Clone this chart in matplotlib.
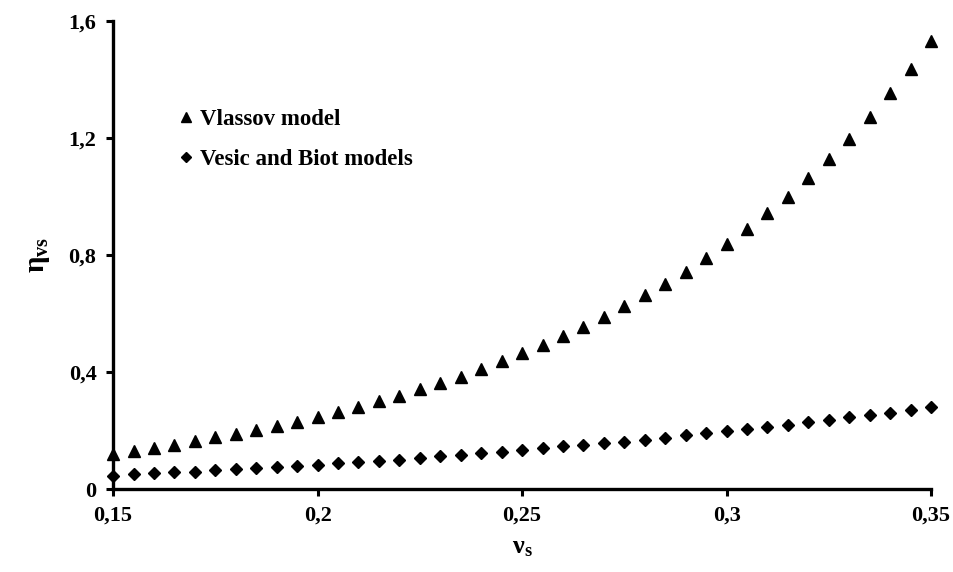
import numpy as np
import matplotlib.pyplot as plt
from matplotlib.ticker import FuncFormatter

plt.rcParams['font.family'] = ['Liberation Serif', 'DejaVu Serif']
plt.rcParams['font.weight'] = 'bold'
plt.rcParams['mathtext.fontset'] = 'custom'
plt.rcParams['mathtext.rm'] = 'Liberation Serif:bold'
plt.rcParams['mathtext.bf'] = 'Liberation Serif:bold'
plt.rcParams['mathtext.it'] = 'Liberation Serif:bold'

# poisson ratio of the soil, 0.15 .. 0.35 in steps of 0.005
nu_s = np.round(np.arange(0.15, 0.3501, 0.005), 3)

# values
vlassov = [0.120, 0.131, 0.141, 0.152, 0.165, 0.177, 0.188, 0.202, 0.217, 0.231,
           0.248, 0.264, 0.281, 0.301, 0.319, 0.341, 0.361, 0.384, 0.409, 0.438,
           0.464, 0.492, 0.523, 0.555, 0.589, 0.626, 0.662, 0.701, 0.743, 0.789,
           0.837, 0.888, 0.943, 0.999, 1.062, 1.127, 1.197, 1.273, 1.353, 1.438,
           1.533]
vesic_biot = [0.046, 0.050, 0.054, 0.057, 0.060, 0.064, 0.067, 0.071, 0.075, 0.079,
              0.083, 0.088, 0.092, 0.097, 0.101, 0.107, 0.112, 0.117, 0.122, 0.128,
              0.133, 0.140, 0.147, 0.151, 0.156, 0.162, 0.168, 0.175, 0.184, 0.190,
              0.197, 0.204, 0.213, 0.220, 0.228, 0.235, 0.246, 0.253, 0.261, 0.270,
              0.279]

x_ticks = [0.15, 0.2, 0.25, 0.3, 0.35]
y_ticks = [0, 0.4, 0.8, 1.2, 1.6]

fig = plt.figure(figsize=(9.54, 5.72), dpi=100)
ax = fig.add_axes([0.1185, 0.145, 0.8575, 0.818])

ax.plot(nu_s, vlassov, linestyle='none', marker='^', ms=8.5, color='black',
        label='Vlassov model', clip_on=False, zorder=2)
ax.plot(nu_s, vesic_biot, linestyle='none', marker='D', ms=6.3, color='black',
        label='Vesic and Biot models', clip_on=False, zorder=2)

ax.set_xlim(0.15, 0.35)
ax.set_ylim(0, 1.6)
ax.set_xticks(x_ticks)
ax.set_yticks(y_ticks)

def comma(v, pos):
    s = ('%.2f' % v).rstrip('0').rstrip('.')
    return s.replace('.', ',')

ax.xaxis.set_major_formatter(FuncFormatter(comma))
ax.yaxis.set_major_formatter(FuncFormatter(comma))

for side in ['top', 'right']:
    ax.spines[side].set_visible(False)
for side in ['left', 'bottom']:
    ax.spines[side].set_linewidth(2.4)
    ax.spines[side].set_zorder(3)

ax.tick_params(direction='out', length=5, width=2.2, labelsize=16, pad=7)

ax.set_xlabel(r'$\mathbf{ν_s}$', fontsize=19, labelpad=8)
ax.set_ylabel(r'$\mathbf{η_{vs}}$', fontsize=21, labelpad=12)

ax.legend(loc='center left', bbox_to_anchor=(0.068, 0.747), frameon=False,
          borderpad=0, fontsize=16.5, handlelength=0.55, handletextpad=0.3,
          labelspacing=0.85, markerscale=0.8)

fig.savefig('out.png', dpi=100)
